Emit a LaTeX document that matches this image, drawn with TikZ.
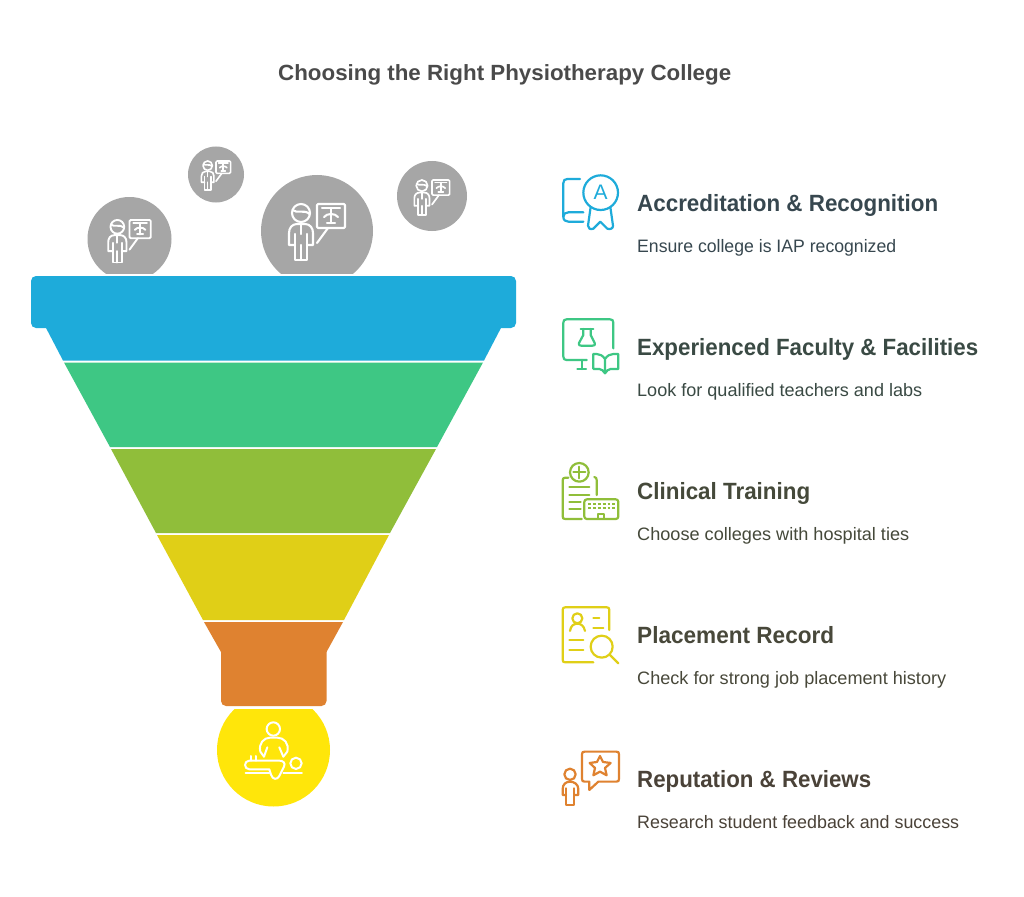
\documentclass[tikz,border=0pt]{standalone}
\usepackage{fontspec}
\usepackage{graphicx}
\setmainfont{Liberation Sans}
\definecolor{cblue}{HTML}{1EABDA}
\definecolor{cgreen}{HTML}{3EC784}
\definecolor{colive}{HTML}{90BE3A}
\definecolor{cyell}{HTML}{E0CF17}
\definecolor{corange}{HTML}{DF8230}
\definecolor{cbright}{HTML}{FFE60A}
\definecolor{cgrey}{HTML}{A6A6A6}
\definecolor{ttitle}{HTML}{4A4A4A}
\definecolor{t1}{HTML}{37474F}
\definecolor{t2}{HTML}{3A4A44}
\definecolor{t3}{HTML}{45493A}
\definecolor{t4}{HTML}{48483A}
\definecolor{t5}{HTML}{4A4238}
\newcommand{\fitw}[2]{\resizebox{#1pt}{\height}{#2}}
\tikzset{
  head/.style={anchor=base west,inner sep=0pt,font=\fontsize{23.5}{28}\selectfont\bfseries},
  desc/.style={anchor=base west,inner sep=0pt,font=\fontsize{18}{22}\selectfont},
  ico/.style={line width=2.2pt,line cap=round,line join=round},
  wico/.style={draw=white,line width=2pt,line cap=round,line join=round},
}
\newcommand{\xrayperson}[4]{%
\begin{scope}[shift={(#1,#2)},scale=#3,wico,line width=#4pt]
 \draw (-16,-18) circle[radius=9];
 \draw (-24.5,-21) .. controls (-20,-17) and (-13,-22) .. (-7.5,-17);
 \draw (-22,14) -- (-28,14) -- (-28,2) .. controls (-28,-3) and (-25,-7) .. (-20,-7) -- (-12,-7) .. controls (-7,-7) and (-4,-3) .. (-4,2) -- (-4,14) -- (-10,14);
 \draw (-22,3) -- (-22,29) -- (-10,29) -- (-10,3);
 \draw (-16,14) -- (-16,29);
 \draw (-16,-7) -- (-16,3);
 \draw[rounded corners=1.2] (0,-27) rectangle (28,-3);
 \draw (0,12) -- (11,-3);
 \draw (5,-23) -- (23,-23);
 \draw (14,-23) -- (14,-8);
 \draw (7,-14) .. controls (10,-18) and (18,-18) .. (21,-14);
 \draw (10,-8) -- (18,-8);
\end{scope}}
\begin{document}
\begin{tikzpicture}[x=1pt,y=-1pt]
\useasboundingbox (0,0) rectangle (1024,896);
\fill[white] (0,0) rectangle (1024,896);
\node[anchor=base west,inner sep=0pt,text=ttitle,font=\fontsize{22}{26}\selectfont\bfseries] (title) at (278,81) {\fitw{453}{Choosing the Right Physiotherapy College}};
% grey circles
\begin{scope}
 \clip (0,0) rectangle (1024,273);
 \fill[cgrey] (129.5,239) circle[radius=42];
 \fill[cgrey] (216,174.5) circle[radius=28];
 \fill[cgrey] (317,231) circle[radius=56];
 \fill[cgrey] (432,196) circle[radius=35];
\end{scope}
\xrayperson{317}{231}{1}{2.1}
\xrayperson{129.5}{240.5}{0.76}{1.9}
\xrayperson{216}{175}{0.52}{1.6}
\xrayperson{432}{197}{0.63}{1.7}
% funnel
\fill[cblue,rounded corners=5] (31,276) rectangle (516,328);
\fill[cblue] (45,326) -- (502,326) -- (484,360.5) -- (63,360.5) -- cycle;
\fill[cgreen] (64,362.5) -- (483,362.5) -- (437,447) -- (110,447) -- cycle;
\fill[colive] (111,449) -- (436,449) -- (390,533) -- (156,533) -- cycle;
\fill[cyell] (157,535) -- (389,535) -- (344,620) -- (203,620) -- cycle;
\fill[corange] (204,622) -- (343,622) -- (326.5,652) -- (221,652) -- cycle;
\fill[corange,rounded corners=5] (221,646) rectangle (326.5,706);
\begin{scope}
 \clip (0,709) rectangle (1024,896);
 \fill[cbright] (273.5,750) circle[radius=56.5];
\end{scope}
% massage icon
\begin{scope}[shift={(190,610)},scale=0.3333,wico]
 \draw (250,357) circle[radius=20];
 \draw (222,440) -- (211,425) .. controls (205,400) and (222,383) .. (240,383) -- (262,383) .. controls (282,383) and (298,400) .. (292,425) -- (280,440);
 \draw (222,440) -- (232,412);
 \draw (268,412) -- (280,440);
 \draw (183,438) -- (183,452);
 \draw (197,438) -- (197,452);
 \draw (268,452) -- (178,452) .. controls (161,452) and (161,478) .. (178,478) -- (238,478) -- (243,494) .. controls (248,510) and (262,510) .. (268,498) -- (282,470) .. controls (288,458) and (278,452) .. (268,452);
 \draw (318,460) circle[radius=17];
 \draw (167,490) -- (238,490);
 \draw (280,490) -- (336,490);
\end{scope}
% icon 1
\begin{scope}[shift={(550,165)},scale=0.3333,ico]
 \draw[cblue] (90,42) -- (52,42) .. controls (44,42) and (40,46) .. (40,54) -- (40,155) .. controls (40,165) and (46,170) .. (55,170) -- (100,170);
 \draw[cblue] (40,155) .. controls (40,147) and (46,142) .. (55,142) -- (100,142);
 \draw[cblue] (152,83) circle[radius=52];
 \draw[cblue] (122,126) -- (114,182) .. controls (113,190) and (122,195) .. (130,191) -- (151,170) -- (172,191) .. controls (180,195) and (190,190) .. (189,182) -- (181,126);
\end{scope}
\node[text=cblue,inner sep=0pt,font=\fontsize{21}{24}\selectfont] (medalA) at (600.7,192.7) {A};
% icon 2
\begin{scope}[shift={(550,165)},scale=0.3333,ico]
 \draw[cgreen] (190,550) -- (190,473) .. controls (190,466) and (187,463) .. (180,463) -- (50,463) .. controls (43,463) and (40,466) .. (40,473) -- (40,575) .. controls (40,582) and (43,585) .. (50,585) -- (110,585);
 \draw[cgreen] (95,585) -- (95,612);
 \draw[cgreen] (82,612) -- (108,612);
 \draw[cgreen] (92,492) -- (130,492);
 \draw[cgreen] (100,492) -- (100,510) -- (87,534) .. controls (85,540) and (88,542) .. (93,542) -- (128,542) .. controls (134,542) and (136,540) .. (134,534) -- (122,510) -- (122,492);
 \draw[cgreen] (165,582) .. controls (158,572) and (150,567) .. (140,567) -- (130,567) -- (130,612) -- (148,612) .. controls (155,612) and (160,618) .. (165,625) .. controls (170,618) and (175,612) .. (182,612) -- (205,612) -- (205,567) -- (190,567) .. controls (180,567) and (172,572) .. (165,582) -- (165,625);
\end{scope}
% icon 3
\begin{scope}[shift={(550,455)},scale=0.3333,ico]
 \draw[colive] (88,52) circle[radius=28];
 \draw[colive] (70,52) -- (106,52);
 \draw[colive] (88,35) -- (88,70);
 \draw[colive] (55,68) -- (46,68) .. controls (40,68) and (38,71) .. (38,76) -- (38,184) .. controls (38,190) and (40,192) .. (46,192) -- (95,192);
 \draw[colive] (133,66) .. controls (138,67) and (140,70) .. (140,75) -- (140,120);
 \draw[colive] (58,97) -- (118,97);
 \draw[colive] (58,120) -- (118,120);
 \draw[colive] (58,142) -- (92,142);
 \draw[colive] (58,162) -- (92,162);
 \draw[colive,rounded corners=2.5] (103,133) rectangle (205,192);
 \draw[colive,dash pattern=on 2.8pt off 2pt,line cap=butt] (115,148) -- (195,148);
 \draw[colive,dash pattern=on 2.8pt off 2pt,line cap=butt] (115,160) -- (195,160);
 \draw[colive] (145,190) -- (145,178) -- (162,178) -- (162,190);
\end{scope}
% icon 4
\begin{scope}[shift={(550,455)},scale=0.3333,ico]
 \draw[cyell] (178,525) -- (178,465) .. controls (178,459) and (176,457) .. (170,457) -- (46,457) .. controls (40,457) and (38,459) .. (38,465) -- (38,614) .. controls (38,620) and (40,622) .. (46,622) -- (130,622);
 \draw[cyell] (82,490) circle[radius=15];
 \draw[cyell] (60,528) .. controls (62,512) and (72,506) .. (82,506) .. controls (92,506) and (102,512) .. (105,528);
 \draw[cyell] (130,490) -- (148,490);
 \draw[cyell] (130,518) -- (160,518);
 \draw[cyell] (58,555) -- (100,555);
 \draw[cyell] (58,585) -- (100,585);
 \draw[cyell] (155,575) circle[radius=33];
 \draw[cyell] (180,600) -- (205,625);
\end{scope}
% icon 5
\begin{scope}[shift={(550,455)},scale=0.3333,ico]
 \draw[corange] (104,890) -- (199,890) .. controls (205,890) and (207,892) .. (207,898) -- (207,972) .. controls (207,978) and (205,980) .. (199,980) -- (145,980) -- (118,1005) -- (118,980) -- (104,980) .. controls (98,980) and (96,978) .. (96,972) -- (96,898) .. controls (96,892) and (98,890) .. (104,890) -- cycle;
 \draw[corange] (150,903) -- (159,921) -- (182,924) -- (165,939) -- (170,961) -- (150,950) -- (130,961) -- (135,939) -- (119,924) -- (141,921) -- cycle;
 \draw[corange] (60,958) circle[radius=17];
 \draw[corange] (48,1020) -- (38,1020) -- (38,1002) .. controls (38,988) and (48,980) .. (60,980) .. controls (72,980) and (85,988) .. (85,1002) -- (85,1020) -- (73,1020);
 \draw[corange] (48,1000) -- (48,1050) -- (73,1050) -- (73,1000);
\end{scope}
% texts
\node[head,text=t1] (h1) at (637,211.5) {\fitw{301}{Accreditation \& Recognition}};
\node[desc,text=t1] (d1) at (637,252.3) {\fitw{259}{Ensure college is IAP recognized}};
\node[head,text=t2] (h2) at (637,355.5) {\fitw{341}{Experienced Faculty \& Facilities}};
\node[desc,text=t2] (d2) at (637,396.3) {\fitw{285}{Look for qualified teachers and labs}};
\node[head,text=t3] (h3) at (637,499.5) {\fitw{173}{Clinical Training}};
\node[desc,text=t3] (d3) at (637,540.3) {\fitw{272}{Choose colleges with hospital ties}};
\node[head,text=t4] (h4) at (637,643.5) {\fitw{197}{Placement Record}};
\node[desc,text=t4] (d4) at (637,684.3) {\fitw{309}{Check for strong job placement history}};
\node[head,text=t5] (h5) at (637,787.5) {\fitw{234}{Reputation \& Reviews}};
\node[desc,text=t5] (d5) at (637,828.3) {\fitw{322}{Research student feedback and success}};
\end{tikzpicture}
\end{document}
